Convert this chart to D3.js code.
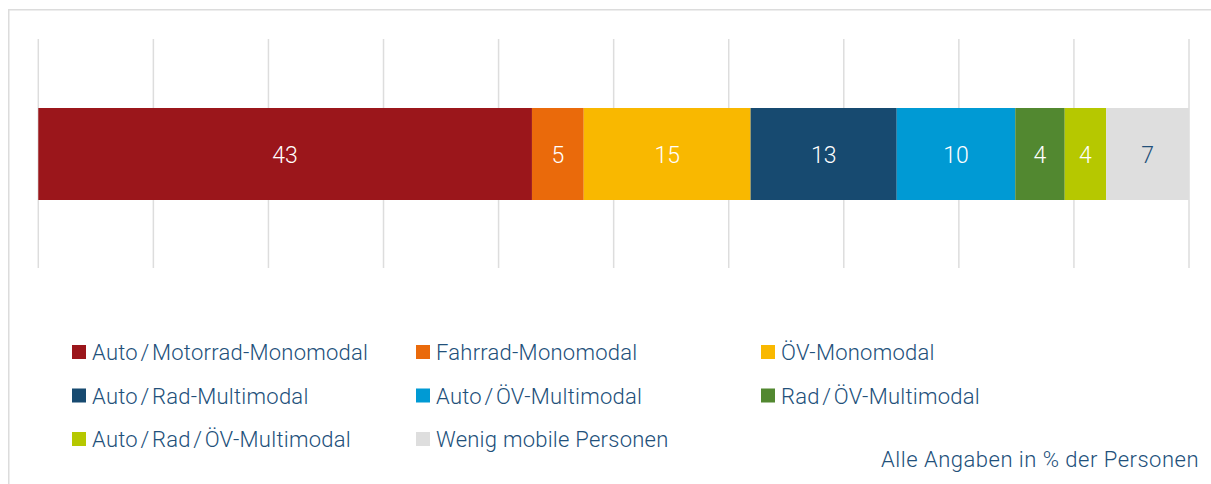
<!DOCTYPE html>
<html>
<head>
<meta charset="utf-8">
<script src="https://cdn.jsdelivr.net/npm/d3@7"></script>
<style>
  body { margin: 0; background: #fff; }
  svg text { font-family: Roboto, "Noto Sans", sans-serif; font-weight: 300; }
</style>
</head>
<body>
<svg id="chart" width="1211" height="484"></svg>
<script>
// ── Data ──────────────────────────────────────────────────────────────────────

const categories = [
  'Auto/Motorrad-Monomodal', 'Fahrrad-Monomodal', 'ÖV-Monomodal',
  'Auto/Rad-Multimodal', 'Auto/ÖV-Multimodal', 'Rad/ÖV-Multimodal',
  'Auto/Rad/ÖV-Multimodal', 'Wenig mobile Personen'
];
const values = [42.9, 4.5, 14.5, 12.7, 10.3, 4.3, 3.6, 7.2];
const labels = ['43', '5', '15', '13', '10', '4', '4', '7'];
const colors = ['#9b161b', '#ea6a0b', '#f9b800', '#174a70', '#009ad4', '#528830', '#b6c800', '#dedede'];
const gridTicks = d3.range(0, 101, 10);
const note = 'Alle Angaben in % der Personen';

// ── Layout ────────────────────────────────────────────────────────────────────

const svg = d3.select('#chart');
const textColor = '#22507a';

const x = d3.scaleLinear().domain([0, 100]).range([38.3, 1189]);
const gridTop = 39, gridBottom = 268;
const barTop = 108, barH = 92;

// frame (top + left edge)
svg.append('path')
  .attr('d', 'M8.75,484 V9.75 H1211')
  .attr('fill', 'none')
  .attr('stroke', '#dcdcdc')
  .attr('stroke-width', 1.5);

// vertical gridlines
svg.append('g').selectAll('line')
  .data(gridTicks)
  .join('line')
  .attr('x1', d => x(d)).attr('x2', d => x(d))
  .attr('y1', gridTop).attr('y2', gridBottom)
  .attr('stroke', '#dddddd')
  .attr('stroke-width', 1.5);

// stacked segments
const stack = [];
let acc = 0;
values.forEach((v, i) => { stack.push({ i, x0: acc, x1: acc + v }); acc += v; });

const seg = svg.append('g').selectAll('g')
  .data(stack)
  .join('g');

seg.append('rect')
  .attr('x', d => x(d.x0))
  .attr('width', d => x(d.x1) - x(d.x0))
  .attr('y', barTop)
  .attr('height', barH)
  .attr('fill', d => colors[d.i]);

seg.append('text')
  .attr('x', d => (x(d.x0) + x(d.x1)) / 2)
  .attr('y', barTop + barH / 2 + 8.5)
  .attr('text-anchor', 'middle')
  .attr('font-size', 23)
  .attr('fill', d => d.i === 7 ? textColor : '#ffffff')
  .text(d => labels[d.i]);

// ── Legend ────────────────────────────────────────────────────────────────────

const colX = [72, 416, 761];
const rowY = [360, 403.5, 447];

const leg = svg.append('g').selectAll('g')
  .data(categories)
  .join('g')
  .attr('transform', (d, i) => `translate(${colX[i % 3]},${rowY[Math.floor(i / 3)]})`);

leg.append('rect')
  .attr('x', 0).attr('y', -15)
  .attr('width', 14).attr('height', 14)
  .attr('fill', (d, i) => colors[i]);

// the original typeface sets the slash with wide side bearings
leg.append('text')
  .attr('x', 20)
  .attr('font-size', 22)
  .attr('letter-spacing', 0.25)
  .attr('fill', textColor)
  .each(function(d) {
    const t = d3.select(this);
    d.split('/').forEach((part, k) => {
      if (k > 0) t.append('tspan').attr('dx', 2.5).text('/');
      t.append('tspan').attr('dx', k > 0 ? 2.5 : 0).text(part);
    });
  });

svg.append('text')
  .attr('x', 1199).attr('y', 467)
  .attr('text-anchor', 'end')
  .attr('font-size', 22)
  .attr('letter-spacing', 0.5)
  .attr('fill', textColor)
  .text(note);
</script>
</body>
</html>
